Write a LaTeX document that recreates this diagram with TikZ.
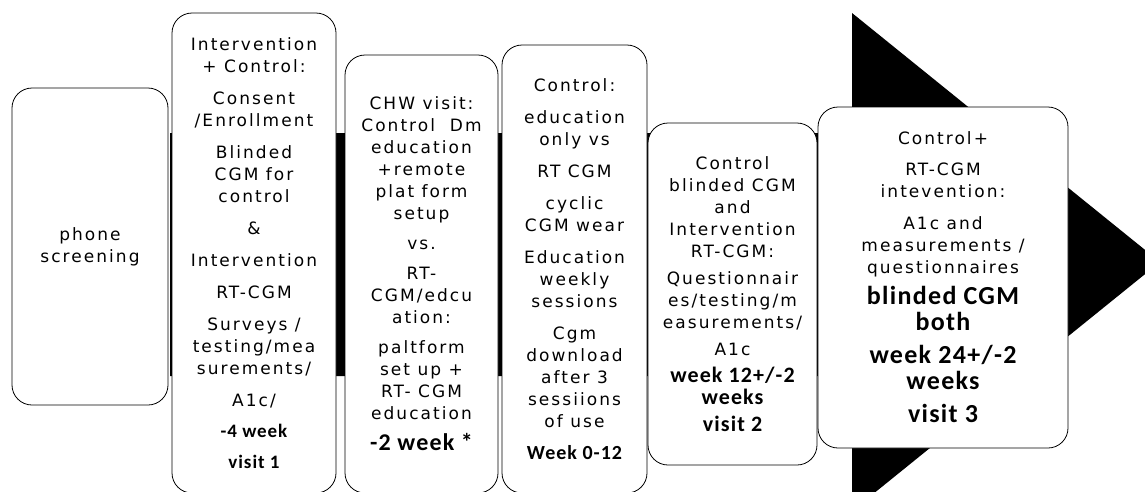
\documentclass[tikz,border=0pt]{standalone}
\usepackage{fontspec}
\newfontfamily\plainfont{DejaVu Sans}[LetterSpace=12]
\newfontfamily\weekfont{Carlito}[LetterSpace=5]
% bold time labels, optional size
\newcommand\wk[2][19]{{\weekfont\bfseries\fontsize{#1}{#1}\selectfont #2}}

\tikzset{
  phase/.style={draw=black, line width=0.8pt, fill=white, rounded corners=20pt,
    align=center, inner sep=0pt, font=\plainfont\fontsize{17}{22}\selectfont},
  timeline/.style={fill=black}
}

\begin{document}
\begin{tikzpicture}[x=1pt,y=-1pt]
	\useasboundingbox (0,0) rectangle (1145,491);
	% arrow behind the phases
	\fill[timeline] (170,133) -- (852,133) -- (852,13) -- (1160,262)
		-- (852,511) -- (852,376) -- (170,376) -- cycle;
	\node[phase, minimum width=156pt, minimum height=317pt] (screen) at (90,246.5)
		{phone\\screening};
	\node[phase, minimum width=164pt, minimum height=480pt] (visit1) at (254,253)
		{Intervention\\+ Control:\\[10pt]Consent\\/Enrollment\\[10pt]Blinded\\CGM for\\control\\[10pt]\&\\[10pt]
		Intervention\\[10pt]RT-CGM\\[10pt]Surveys /\\testing/mea\\surements/\\[10pt]A1c/\\[9pt]
		\wk{-4 week}\\[9pt]\wk{visit 1}};
	\node[phase, minimum width=153pt, minimum height=438pt] (chw) at (421.5,274)
		{CHW visit:\\Control~ Dm\\education\\+remote\\plat form\\setup\\[8pt]vs.\\[8pt]
		RT-\\CGM/edcu\\ation:\\[8pt]paltform\\set up +\\RT- CGM\\education\\[9pt]\wk[24]{-2 week *}};
	\node[phase, minimum width=145pt, minimum height=448pt] (weeks) at (574.5,269)
		{Control:\\[10pt]education\\only vs\\[10pt]RT CGM\\[10pt]cyclic\\CGM wear\\[10pt]
		Education\\weekly\\sessions\\[10pt]Cgm\\download\\after 3\\sessiions\\of use\\[10pt]
		\wk[20]{Week 0-12}};
	\node[phase, minimum width=169pt, minimum height=342pt] (visit2) at (732.5,294)
		{Control\\blinded CGM\\and\\Intervention\\RT-CGM:\\[5pt]Questionnair\\es/testing/m\\easurements/\\[5pt]
		A1c\\[5pt]\wk[22]{week 12+/-2}\\\wk[22]{weeks}\\[5pt]\wk[22]{visit 2}};
	\node[phase, minimum width=250pt, minimum height=341pt] (visit3) at (943,277.5)
		{Control+\\[9pt]RT-CGM\\intevention:\\[10pt]A1c and\\measurements /\\questionnaires\\[9pt]
		\wk[26]{blinded CGM}\\[4pt]\wk[26]{both}\\[11pt]\wk[26]{week 24+/-2}\\[4pt]\wk[26]{weeks}\\[11pt]
		\wk[26]{visit 3}};
\end{tikzpicture}
\end{document}
